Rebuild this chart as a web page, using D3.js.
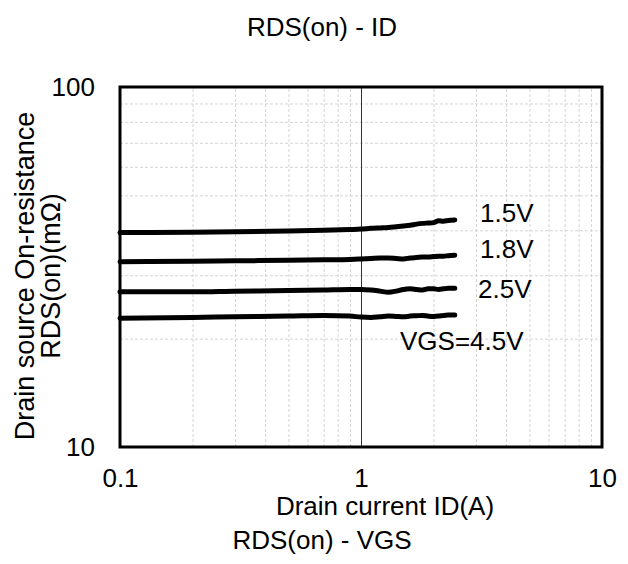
<!DOCTYPE html>
<html>
<head>
<meta charset="utf-8">
<script src="https://cdn.jsdelivr.net/npm/d3@7"></script>
<style>
  body { margin: 0; background: #fff; }
  svg text { font-family: "Liberation Sans", Arial, sans-serif; fill: #000; }
</style>
</head>
<body>
<div id="visualisation"></div>
<script>
const w = 628;
const h = 564;

// drain current ID (A)
var current = [0.1, 0.2, 0.3, 0.5, 0.7, 0.9, 1.0, 1.1, 1.2, 1.3, 1.4, 1.5, 1.6, 1.7, 1.8, 1.9, 2.0, 2.1, 2.2, 2.3, 2.45];

// RDS(on) in mOhm, one array per VGS
var rds15 = [39.4, 39.5, 39.6, 39.8, 40.0, 40.2, 40.3, 40.5, 40.6, 40.7, 40.9, 41.1, 41.3, 41.6, 41.8, 41.9, 42.0, 42.5, 42.4, 42.6, 42.7];
var rds18 = [32.7, 32.8, 32.9, 33.0, 33.1, 33.2, 33.3, 33.4, 33.5, 33.5, 33.4, 33.3, 33.5, 33.6, 33.7, 33.7, 33.8, 33.9, 33.9, 34.0, 34.1];
var rds25 = [27.0, 27.0, 27.1, 27.2, 27.3, 27.4, 27.4, 27.3, 27.1, 26.9, 27.1, 27.4, 27.5, 27.4, 27.3, 27.5, 27.5, 27.4, 27.5, 27.6, 27.6];
var rds45 = [22.8, 22.9, 23.0, 23.1, 23.2, 23.1, 22.95, 22.9, 23.0, 23.1, 23.05, 23.0, 23.1, 23.15, 23.2, 23.1, 23.05, 23.1, 23.2, 23.25, 23.25];

var seriesLabels = ["1.5V", "1.8V", "2.5V", "VGS=4.5V"];

var xTicks = [0.1, 1, 10];
var xTickLabels = ["0.1", "1", "10"];
var yTicks = [10, 100];
var yTickLabels = ["10", "100"];

var xMinor = [0.2, 0.3, 0.4, 0.5, 0.6, 0.7, 0.8, 0.9, 2, 3, 4, 5, 6, 7, 8, 9];
var yMinor = [20, 30, 40, 50, 60, 70, 80, 90];

// plot box
var pLeft = 120, pRight = 602, pTop = 87, pBottom = 447;

var svg = d3.select("#visualisation")
    .append("svg")
    .attr("width", w)
    .attr("height", h);

var x = d3.scaleLog().domain([0.1, 10]).range([pLeft, pRight]);
var y = d3.scaleLog().domain([10, 100]).range([pBottom, pTop]);

// minor grid
var gx = svg.append("g")
    .attr("transform", "translate(0," + pBottom + ")")
    .call(d3.axisBottom(x).tickValues(xMinor).tickSize(-(pBottom - pTop)).tickFormat(""));
var gy = svg.append("g")
    .attr("transform", "translate(" + pLeft + ",0)")
    .call(d3.axisLeft(y).tickValues(yMinor).tickSize(-(pRight - pLeft)).tickFormat(""));
[gx, gy].forEach(function(g) {
    g.select(".domain").remove();
    g.selectAll(".tick line")
        .attr("stroke", "#d4d4d4")
        .attr("stroke-width", 1)
        .attr("stroke-dasharray", "3,2");
});

// major line at 1 A
var gMaj = svg.append("g")
    .attr("transform", "translate(0," + pBottom + ")")
    .call(d3.axisBottom(x).tickValues([1]).tickSize(-(pBottom - pTop)).tickFormat(""));
gMaj.select(".domain").remove();
gMaj.selectAll(".tick line").attr("stroke", "#333").attr("stroke-width", 1);

// tick labels
var ax = svg.append("g")
    .attr("transform", "translate(0," + pBottom + ")")
    .call(d3.axisBottom(x).tickValues(xTicks).tickSize(0).tickPadding(22)
        .tickFormat(function(d, i) { return xTickLabels[i]; }));
ax.select(".domain").remove();
ax.attr("font-size", 26).attr("font-family", null);

var ay = svg.append("g")
    .attr("transform", "translate(" + pLeft + ",0)")
    .call(d3.axisLeft(y).tickValues(yTicks).tickSize(0).tickPadding(25)
        .tickFormat(function(d, i) { return yTickLabels[i]; }));
ay.select(".domain").remove();
ay.attr("font-size", 26).attr("font-family", null);

// curves
var line = d3.line()
    .x(function(d) { return x(d[0]); })
    .y(function(d) { return y(d[1]); })
    .curve(d3.curveMonotoneX);

[rds15, rds18, rds25, rds45].forEach(function(s) {
    svg.append("path")
        .datum(s.map(function(v, i) { return [current[i], v]; }))
        .attr("fill", "none")
        .attr("stroke", "#000")
        .attr("stroke-width", 5)
        .attr("stroke-linecap", "round")
        .attr("stroke-linejoin", "round")
        .attr("d", line);
});

// frame
svg.append("rect")
    .attr("x", pLeft).attr("y", pTop)
    .attr("width", pRight - pLeft).attr("height", pBottom - pTop)
    .attr("fill", "none")
    .attr("stroke", "#000")
    .attr("stroke-width", 3);

// curve labels
var labelPos = [[480, 222], [480, 258], [478, 298], [400, 350]];
seriesLabels.forEach(function(t, i) {
    svg.append("text")
        .attr("x", labelPos[i][0]).attr("y", labelPos[i][1])
        .attr("font-size", 26)
        .text(t);
});

// titles
svg.append("text")
    .attr("x", 322).attr("y", 36)
    .attr("text-anchor", "middle")
    .attr("font-size", 26)
    .text("RDS(on) - ID");

svg.append("text")
    .attr("x", 385).attr("y", 515)
    .attr("text-anchor", "middle")
    .attr("font-size", 26)
    .text("Drain current ID(A)");

svg.append("text")
    .attr("x", 322).attr("y", 549)
    .attr("text-anchor", "middle")
    .attr("font-size", 26)
    .text("RDS(on) - VGS");

var yl = svg.append("text")
    .attr("transform", "translate(34,276) rotate(-90)")
    .attr("text-anchor", "middle")
    .attr("font-size", 27);
yl.append("tspan").attr("x", 0).attr("dy", 0).text("Drain source On-resistance");
yl.append("tspan").attr("x", 0).attr("dy", 26).text("RDS(on)(mΩ)");
</script>
</body>
</html>
